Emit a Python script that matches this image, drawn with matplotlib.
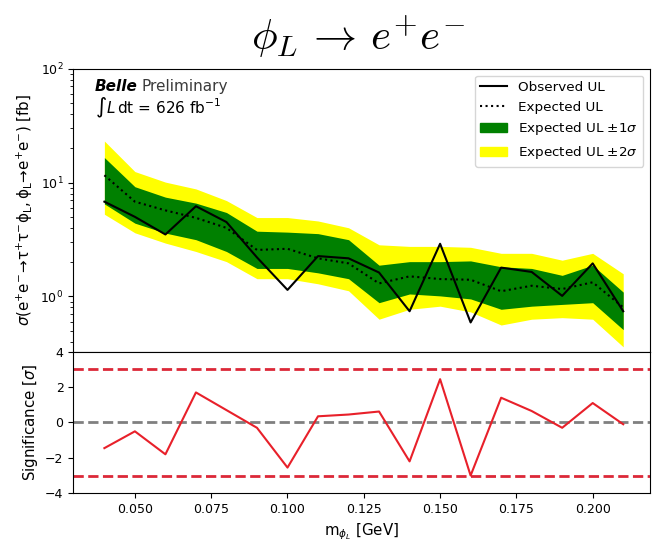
import numpy as np
import matplotlib
matplotlib.use("Agg")
import matplotlib.pyplot as plt
from matplotlib.patches import Patch
from matplotlib.lines import Line2D

# Scan points: dark-scalar mass [GeV]
mass = [0.04, 0.05, 0.06, 0.07, 0.08, 0.09, 0.10, 0.11, 0.12,
        0.13, 0.14, 0.15, 0.16, 0.17, 0.18, 0.19, 0.20, 0.21]

# Upper limits on the cross section [fb]
observed_ul = [6.8, 5.0, 3.5, 6.2, 4.5, 2.2, 1.14, 2.26, 2.16,
               1.62, 0.74, 2.9, 0.59, 1.79, 1.64, 1.01, 1.95, 0.74]
expected_ul = [11.6, 6.8, 5.7, 4.9, 4.0, 2.56, 2.62, 2.16, 1.95,
               1.30, 1.50, 1.42, 1.40, 1.11, 1.24, 1.16, 1.33, 0.80]
band1_lo = [6.5, 4.4, 3.6, 3.15, 2.48, 1.76, 1.76, 1.61, 1.43,
            0.88, 1.05, 1.01, 0.95, 0.77, 0.82, 0.85, 0.88, 0.51]
band1_hi = [16.6, 9.2, 7.45, 6.6, 5.46, 3.74, 3.67, 3.56, 3.15,
            1.88, 2.02, 2.02, 2.05, 1.82, 1.76, 1.53, 1.88, 1.09]
band2_lo = [5.27, 3.62, 2.94, 2.48, 2.02, 1.43, 1.43, 1.29, 1.12,
            0.63, 0.77, 0.82, 0.73, 0.56, 0.63, 0.65, 0.63, 0.36]
band2_hi = [23.2, 12.5, 10.1, 8.8, 6.95, 4.93, 4.93, 4.6, 4.01,
            2.84, 2.75, 2.75, 2.7, 2.39, 2.39, 2.08, 2.39, 1.58]

# Local significance [sigma]
significance = [-1.45, -0.5, -1.8, 1.7, 0.7, -0.3, -2.55, 0.35, 0.45,
                0.62, -2.2, 2.45, -3.0, 1.4, 0.65, -0.3, 1.1, -0.1]

plt.rcParams["mathtext.fontset"] = "dejavusans"

fig = plt.figure(figsize=(6.54, 5.42), dpi=100)
gs = fig.add_gridspec(2, 1, height_ratios=[2, 1], hspace=0,
                      left=0.112, right=0.994, top=0.873, bottom=0.09)
ax = fig.add_subplot(gs[0])
axs = fig.add_subplot(gs[1], sharex=ax)

ax.fill_between(mass, band2_lo, band2_hi, color="#ffff00", lw=0)
ax.fill_between(mass, band1_lo, band1_hi, color="#008000", lw=0)
ax.plot(mass, expected_ul, color="k", ls=":", lw=1.5)
ax.plot(mass, observed_ul, color="k", ls="-", lw=1.5)

ax.set_yscale("log")
ax.set_ylim(0.326, 100)
ax.set_xlim(0.0298, 0.2188)
ax.tick_params(labelbottom=False, labelsize=9)
ax.set_ylabel(r"$\sigma(\mathrm{e^{+}e^{-}\!\rightarrow\!\tau^{+}\tau^{-}\phi_{L}, \phi_{L}\!\rightarrow\! e^{+}e^{-}})$ [fb]",
              fontsize=10.8)

handles = [Line2D([], [], color="k", lw=1.5),
           Line2D([], [], color="k", ls=":", lw=1.5),
           Patch(color="#008000"),
           Patch(color="#ffff00")]
labels = ["Observed UL", "Expected UL",
          r"Expected UL $\pm1\sigma$", r"Expected UL $\pm2\sigma$"]
ax.legend(handles, labels, loc="upper right", fontsize=9.7)

ax.text(0.038, 0.965, "Belle", transform=ax.transAxes, fontsize=11,
        fontweight="bold", fontstyle="italic", va="top")
ax.text(0.118, 0.965, "Preliminary", transform=ax.transAxes, fontsize=11,
        va="top", color="#3a3a3a")
ax.text(0.038, 0.905, r"$\int L\,\mathrm{dt}$ = 626 fb$^{-1}$",
        transform=ax.transAxes, fontsize=11, va="top")

fig.suptitle(r"$\phi_L\,\rightarrow\,e^{+}e^{-}$", x=0.547, y=0.975,
             fontsize=31, math_fontfamily="cm")

axs.axhline(3, color="#dc2838", ls="--", lw=2)
axs.axhline(-3, color="#dc2838", ls="--", lw=2)
axs.axhline(0, color="gray", ls="--", lw=2)
axs.plot(mass, significance, color="#e8202a", lw=1.5)
axs.set_ylim(-4, 4)
axs.set_yticks([-4, -2, 0, 2, 4])
axs.tick_params(labelsize=9)
axs.set_xticks([0.05, 0.075, 0.1, 0.125, 0.15, 0.175, 0.2])
axs.set_ylabel(r"Significance [$\sigma$]", fontsize=10.8)
axs.set_xlabel(r"m$_{\phi_L}$ [GeV]", fontsize=10.8)

fig.savefig("out.png", dpi=100)
